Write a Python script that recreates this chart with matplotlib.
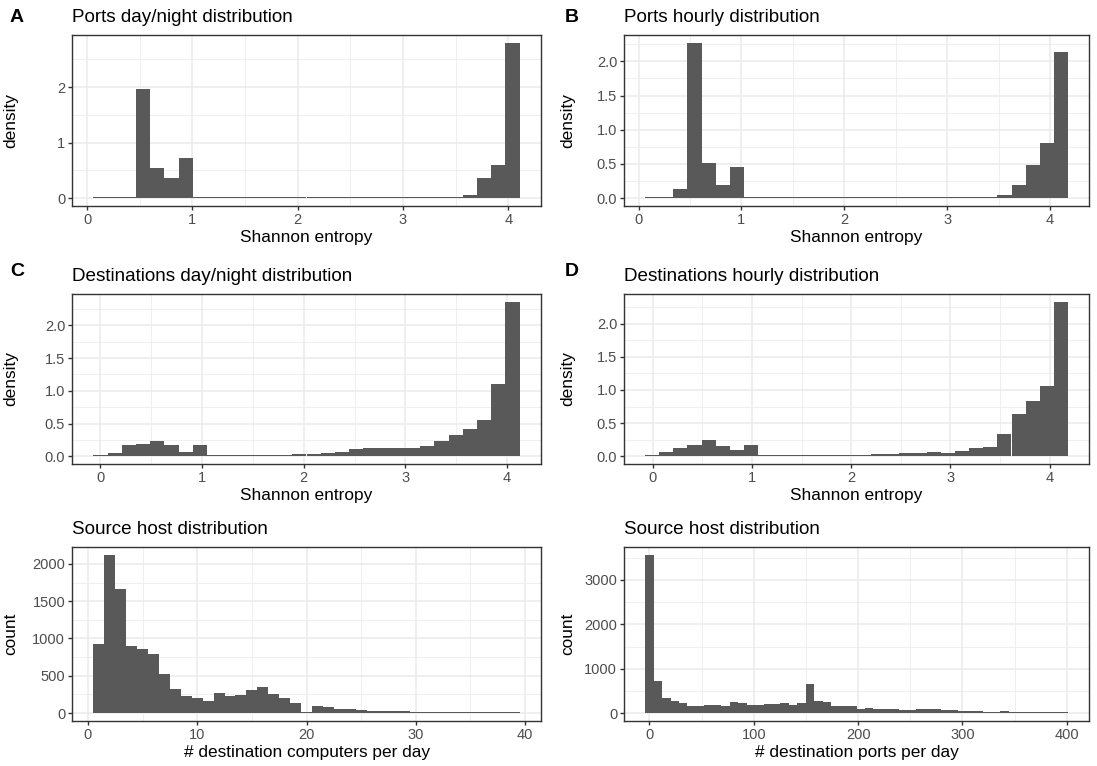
import numpy as np
import matplotlib
matplotlib.use("Agg")
import matplotlib.pyplot as plt
from matplotlib.ticker import FixedLocator

plt.rcParams['font.family'] = ['Liberation Sans', 'DejaVu Sans']

# Histogram bins: left edge of first bin, bin width, bar heights
ports_daynight_start = 0.059
ports_daynight_width = 0.135
ports_daynight = [0.02, 0.02, 0.03, 1.96, 0.54, 0.37, 0.73,
                  0.02, 0.02, 0.02, 0.02, 0.02, 0.02, 0.02, 0.02, 0.02, 0.02,
                  0.02, 0.02, 0.02, 0.02, 0.02, 0.02, 0.02, 0.02, 0.02,
                  0.05, 0.36, 0.60, 2.80]

ports_hourly_start = 0.064
ports_hourly_width = 0.137
ports_hourly = [0.015, 0.025, 0.14, 2.27, 0.52, 0.19, 0.45,
                0.015, 0.015, 0.015, 0.015, 0.015, 0.015, 0.015, 0.015, 0.015, 0.015,
                0.015, 0.015, 0.015, 0.015, 0.015, 0.015, 0.015,
                0.02, 0.05, 0.20, 0.485, 0.80, 2.14]

dest_daynight_start = -0.068
dest_daynight_width = 0.1397
dest_daynight = [0.015, 0.05, 0.17, 0.19, 0.23, 0.17, 0.07, 0.17, 0.015, 0.02,
                 0.015, 0.02, 0.02, 0.02, 0.035, 0.035, 0.05, 0.065, 0.115, 0.125,
                 0.125, 0.125, 0.125, 0.155, 0.23, 0.325, 0.415, 0.555, 1.10, 2.36]

dest_hourly_start = -0.076
dest_hourly_width = 0.142
dest_hourly = [0.015, 0.065, 0.125, 0.17, 0.245, 0.155, 0.095, 0.17, 0.015, 0.02,
               0.015, 0.02, 0.02, 0.02, 0.02, 0.02, 0.035, 0.035, 0.05, 0.05,
               0.065, 0.05, 0.08, 0.125, 0.14, 0.335, 0.63, 0.835, 1.06, 2.33]

computers_start = 0.5
computers_width = 1.0
computers_count = [929, 2120, 1665, 902, 862, 795, 527, 326, 223, 205,
                   165, 272, 223, 245, 312, 353, 259, 205, 138, 12,
                   95, 82, 55, 55, 40, 32, 30, 28, 25, 14,
                   13, 13, 12, 12, 12, 12, 12, 12, 12]

ports_start = -4.05
ports_width = 8.1
ports_count = [3565, 722, 338, 271, 226, 158, 158, 180, 180, 158,
               248, 226, 180, 180, 203, 203, 226, 180, 226, 654,
               271, 248, 158, 158, 150, 90, 113, 90, 90, 90,
               80, 68, 90, 90, 90, 68, 68, 45, 45, 45,
               25, 25, 45, 22, 22, 22, 22, 22, 22, 22]

BAR = '#595959'
GRID = '#EBEBEB'
DARK = '#333333'

W, H = 1097, 766
fig = plt.figure(figsize=(W / 100, H / 100), dpi=100)


def panel(box, ylab_x, start, width, heights, title, xlabel, ylabel,
          xmajor, xminor, ymajor, yminor, yfmt):
    x0, x1, y0, y1 = box
    ax = fig.add_axes([x0 / W, 1 - y1 / H, (x1 - x0) / W, (y1 - y0) / H])
    heights = np.asarray(heights, dtype=float)
    edges = start + width * np.arange(len(heights))
    ax.bar(edges, heights, width=width, align='edge', color=BAR,
           linewidth=0, zorder=3)
    lo, hi = start, start + width * len(heights)
    pad = 0.05 * (hi - lo)
    ax.set_xlim(lo - pad, hi + pad)
    top = heights.max()
    ax.set_ylim(-0.05 * top, 1.05 * top)
    ax.xaxis.set_major_locator(FixedLocator(xmajor))
    ax.xaxis.set_minor_locator(FixedLocator(xminor))
    ax.yaxis.set_major_locator(FixedLocator(ymajor))
    ax.yaxis.set_minor_locator(FixedLocator(yminor))
    ax.set_yticklabels([yfmt.format(v) for v in ymajor])
    ax.grid(which='major', color=GRID, linewidth=1.1, zorder=0)
    ax.grid(which='minor', color=GRID, linewidth=0.55, zorder=0)
    ax.set_axisbelow(True)
    for s in ax.spines.values():
        s.set_color(DARK)
        s.set_linewidth(1.0)
    ax.tick_params(which='major', direction='out', length=2.75, width=1.0,
                   color=DARK, labelcolor='#4D4D4D', labelsize=10.5, pad=2.2)
    ax.tick_params(which='minor', length=0)
    ax.set_title(title, loc='left', fontsize=13.6, pad=9.5)
    ax.set_xlabel(xlabel, fontsize=12.4, labelpad=2.0)
    ax.set_ylabel(ylabel, fontsize=12.4)
    ax.yaxis.set_label_coords((ylab_x - x0) / (x1 - x0), 0.5)
    return ax


ent_major = [0, 1, 2, 3, 4]
ent_minor = [0.5, 1.5, 2.5, 3.5]
half_major = [0.0, 0.5, 1.0, 1.5, 2.0]
half_minor = [0.25, 0.75, 1.25, 1.75, 2.25]

left_col = (72, 541)
right_col = (624, 1089)
rows = [(35, 206), (294, 464), (547, 721)]
ylab_left, ylab_right = 18, 575

panel(left_col + rows[0], ylab_left, ports_daynight_start, ports_daynight_width,
      ports_daynight, 'Ports day/night distribution', 'Shannon entropy', 'density',
      ent_major, ent_minor, [0, 1, 2], [0.5, 1.5, 2.5], '{:g}')
panel(right_col + rows[0], ylab_right, ports_hourly_start, ports_hourly_width,
      ports_hourly, 'Ports hourly distribution', 'Shannon entropy', 'density',
      ent_major, ent_minor, half_major, half_minor, '{:.1f}')
panel(left_col + rows[1], ylab_left, dest_daynight_start, dest_daynight_width,
      dest_daynight, 'Destinations day/night distribution', 'Shannon entropy', 'density',
      ent_major, ent_minor, half_major, half_minor, '{:.1f}')
panel(right_col + rows[1], ylab_right, dest_hourly_start, dest_hourly_width,
      dest_hourly, 'Destinations hourly distribution', 'Shannon entropy', 'density',
      ent_major, ent_minor, half_major, half_minor, '{:.1f}')
panel(left_col + rows[2], ylab_left, computers_start, computers_width,
      computers_count, 'Source host distribution', '# destination computers per day',
      'count', [0, 10, 20, 30, 40], [5, 15, 25, 35],
      [0, 500, 1000, 1500, 2000], [250, 750, 1250, 1750], '{:d}')
panel(right_col + rows[2], ylab_right, ports_start, ports_width,
      ports_count, 'Source host distribution', '# destination ports per day',
      'count', [0, 100, 200, 300, 400], [50, 150, 250, 350],
      [0, 1000, 2000, 3000], [500, 1500, 2500, 3500], '{:d}')

# panel letters
for letter, x, y in [('A', 10, 9), ('B', 565, 9), ('C', 10, 263), ('D', 565, 263)]:
    fig.text(x / W, 1 - y / H, letter, fontsize=14, fontweight='bold',
             ha='left', va='top')

fig.savefig('out.png', dpi=100, facecolor='white')
